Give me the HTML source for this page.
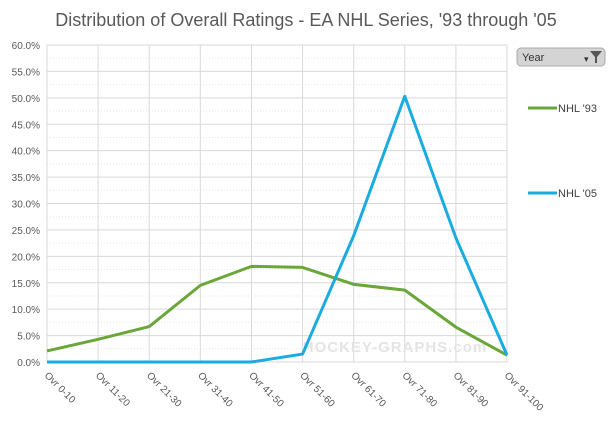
<!DOCTYPE html>
<html><head><meta charset="utf-8"><style>
body{margin:0;background:#fff;}
svg text{font-family:"Liberation Sans",sans-serif;}
</style></head><body>
<svg id="chart" width="613" height="423" xmlns="http://www.w3.org/2000/svg">
<text x="306" y="26" text-anchor="middle" font-size="18" fill="#595959">Distribution of Overall Ratings - EA NHL Series, '93 through '05</text>
<g id="grid"></g>
<g id="axes"></g>
<text x="395" y="352" text-anchor="middle" font-family="Liberation Serif" font-size="15" fill="#e4e4e4" font-weight="bold" letter-spacing="1">HOCKEY-GRAPHS.com</text>
<g id="series"></g>
<g>
<rect x="517" y="48" width="88" height="18" rx="4" fill="#d4d4d4" stroke="#aaa"/>
<text x="522" y="61" font-size="11" fill="#333">Year</text>
<text x="584" y="62" font-size="9" fill="#333">▾</text>
<path d="M590 51 L602 51 L597 57 L597 63 L595 63 L595 57 Z" fill="#555"/>
</g>
<g>
<line x1="528" y1="108" x2="557" y2="108" stroke="#6aa63a" stroke-width="3"/>
<text x="558" y="112" font-size="11" fill="#404040">NHL '93</text>
</g>
<g>
<line x1="528" y1="193" x2="557" y2="193" stroke="#1aabe0" stroke-width="3"/>
<text x="558" y="197" font-size="11" fill="#404040">NHL '05</text>
</g>
</svg>
<script>
const categories=["Ovr 0-10","Ovr 11-20","Ovr 21-30","Ovr 31-40","Ovr 41-50","Ovr 51-60","Ovr 61-70","Ovr 71-80","Ovr 81-90","Ovr 91-100"];
const nhl93=[2.1,4.3,6.7,14.5,18.1,17.9,14.7,13.6,6.6,1.3];
const nhl05=[0,0,0,0,0,1.5,23.9,50.3,23.5,1.3];
const yTicks=[0,5,10,15,20,25,30,35,40,45,50,55,60];
const NS="http://www.w3.org/2000/svg";
const x0=47,x1=507,y0=362,y1=45,yMax=60;
function xs(i){return x0+i*(x1-x0)/(categories.length-1);}
function ys(v){return y0-v/yMax*(y0-y1);}
function mk(t,a,p){const e=document.createElementNS(NS,t);for(const k in a)e.setAttribute(k,a[k]);p.appendChild(e);return e;}
const grid=document.getElementById('grid'),axes=document.getElementById('axes'),ser=document.getElementById('series');
yTicks.forEach(v=>{
 const l=mk('line',{x1:x0,x2:x1,y1:ys(v),y2:ys(v),stroke:'#d9d9d9'},grid);
 
 
 if(v<yMax){const d=mk('line',{x1:x0,x2:x1,y1:ys(v+2.5),y2:ys(v+2.5),stroke:'#e6e6e6','stroke-dasharray':'1,2'},grid);
 
 }
 const t=mk('text',{x:40,y:ys(v)+4,'text-anchor':'end','font-size':'10',fill:'#595959'},axes);
 t.textContent=v.toFixed(1)+'%';
 
 
});
categories.forEach((c,i)=>{
 const l=mk('line',{x1:xs(i),x2:xs(i),y1:y1,y2:y0,stroke:'#d9d9d9'},grid);
 
 
 const t=mk('text',{x:xs(i)-3,y:y0+14,'font-size':'10',fill:'#595959',transform:`rotate(45 ${xs(i)-3} ${y0+14})`},axes);
 t.textContent=c;
 
 
});
function line(data,col,name){
 const p=mk('polyline',{points:data.map((v,i)=>xs(i)+','+ys(v)).join(' '),fill:'none',stroke:col,'stroke-width':3,'stroke-linejoin':'round'},ser);
 
 
}
line(nhl93,'#6aa63a','series-nhl93-line');
line(nhl05,'#1aabe0','series-nhl05-line');
</script>
</body></html>
